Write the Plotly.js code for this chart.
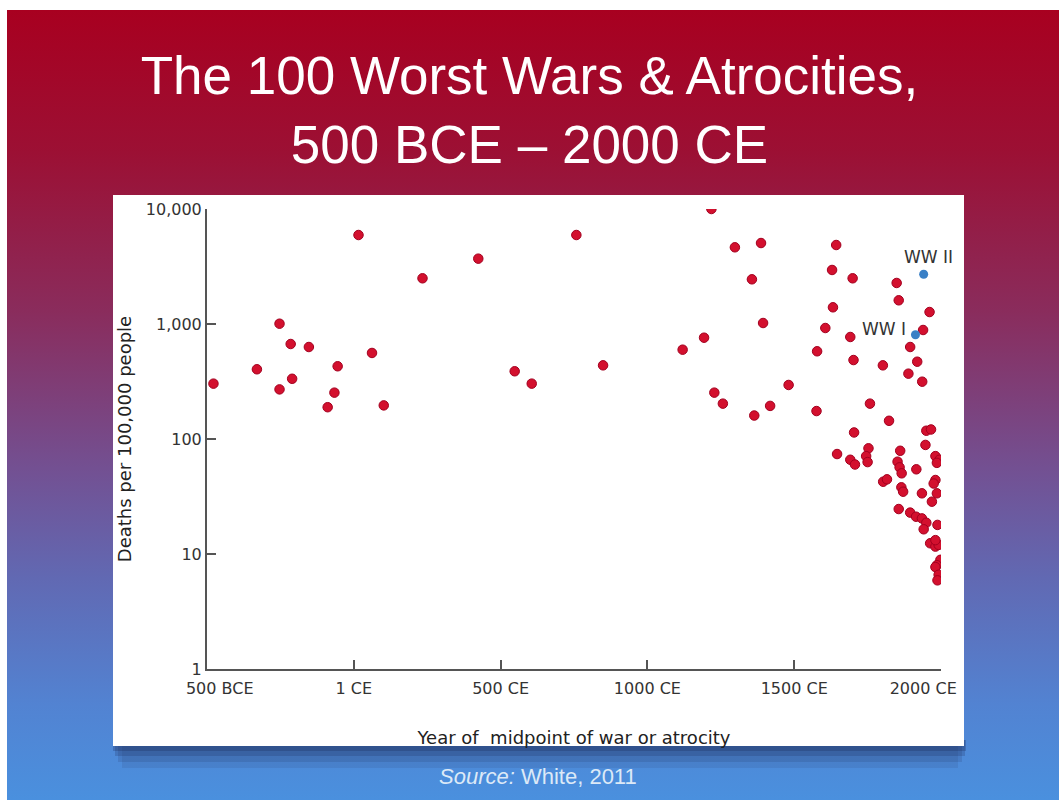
<!DOCTYPE html>
<html>
<head>
<meta charset="utf-8">
<script src="https://cdn.plot.ly/plotly-3.0.1.min.js"></script>
<style>
  html, body { margin: 0; padding: 0; background: #ffffff; }
  #chart {
    width: 1059px; height: 800px;
    background-color: #ffffff;
    background-image: linear-gradient(to bottom, #a80020 0%, #9c1034 18%, #8a2c5c 38%, #735092 58%, #6169b3 72%, #5283d2 88%, #4a90de 100%);
    background-repeat: no-repeat;
    background-position: 7px 10px;
    background-size: 1052px 790px;
  }
</style>
</head>
<body>
<div id="chart"></div>
<script>
// ---- Data ----
const yearsRed = [
  -478, -330, -253, -253, -215, -210, -153, -66, -55, -89, 16, 62, 102,
  234, 424, 548, 606, 758, 849, 1120,
  1218, 1298, 1387, 1356, 1394, 1193, 1228, 1257, 1364, 1418, 1481,
  1643, 1629, 1699, 1849, 1856, 1632, 1961, 1606, 1691, 1939, 1895, 1578, 1702, 1802,
  1919, 1889, 1936, 1758, 1823, 1576, 1704, 1950, 1966, 1646, 1691, 1707, 1753, 1745,
  1750, 1861, 1852, 1859, 1866, 1916, 1947, 1981, 1995, 1986, 1803, 1816, 1865, 1871,
  1935, 1981, 1975, 1986, 1969, 1856, 1895, 1915, 1935, 1950, 1941, 1988, 1963, 1981,
  1992, 1981, 1998, 1986, 1981, 1992, 1988
];
const deathsRed = [
  303, 404, 1006, 270, 670, 334, 631, 253, 429, 189, 5940, 560, 196,
  2497, 3700, 388, 303, 5940, 437, 598,
  10000, 4645, 5060, 2447, 1020, 760, 253, 203, 160, 194, 295,
  4864, 2950, 2497, 2274, 1607, 1397, 1271, 923, 771, 887, 631, 579, 486, 437,
  470, 370, 315, 203, 144, 175, 114, 118, 121, 74, 66, 60, 83, 71,
  63, 79, 63.5, 56.7, 50.3, 54.5, 88.8, 71, 66, 62, 42.5, 44.6, 38, 34.8,
  33.7, 44, 41, 33.7, 28.5, 24.6, 22.9, 21.1, 20.4, 18.7, 16.4, 17.9, 12.4, 11.6,
  12, 13.2, 8.9, 8.0, 7.7, 6.6, 5.9
];
const wwYears  = [1913, 1941];
const wwDeaths = [807, 2705];
const wwLabels = ['WW I', 'WW II'];

const xTickVals = [-500, 0, 500, 1000, 1500, 2000];
const xTickText = ['\u00a0\u00a0\u00a0\u00a0\u00a0500 BCE', '1 CE', '500 CE', '1000 CE', '1500 CE', '2000 CE\u00a0\u00a0\u00a0\u00a0\u00a0\u00a0\u00a0'];
const yTickVals = [1, 10, 100, 1000, 10000];
const yTickText = ['1', '10', '100', '1,000', '10,000'];

// ---- Styling ----
const axisFont = 'DejaVu Sans, Lato, sans-serif';
const axisColor = '#555555';

const traces = [
  {
    type: 'scatter', mode: 'markers',
    x: yearsRed, y: deathsRed,
    marker: { color: '#d3102e', size: 9.5, line: { color: '#a3001f', width: 1 } },
    hoverinfo: 'x+y', showlegend: false
  },
  {
    type: 'scatter', mode: 'markers',
    x: wwYears, y: wwDeaths,
    marker: { color: '#3a80c6', size: 9 },
    hoverinfo: 'x+y', showlegend: false
  }
];

// paper fractions for the white panel around the plot
const L = 207, R = 118, T = 209, B = 131, W = 1059, H = 800;
const pw = W - L - R, ph = H - T - B;
const px = v => (v - L) / pw;
const py = v => (H - B - v) / ph;

const shapes = [
  // soft shadow under the panel
  { type: 'rect', xref: 'paper', yref: 'paper', layer: 'below',
    x0: px(122), x1: px(958), y0: py(768), y1: py(740),
    fillcolor: 'rgba(25,35,80,0.10)', line: { width: 0 } },
  { type: 'rect', xref: 'paper', yref: 'paper', layer: 'below',
    x0: px(118), x1: px(962), y0: py(762), y1: py(740),
    fillcolor: 'rgba(25,35,80,0.14)', line: { width: 0 } },
  { type: 'rect', xref: 'paper', yref: 'paper', layer: 'below',
    x0: px(115), x1: px(965), y0: py(756), y1: py(740),
    fillcolor: 'rgba(25,35,80,0.20)', line: { width: 0 } },
  { type: 'rect', xref: 'paper', yref: 'paper', layer: 'below',
    x0: px(113), x1: px(966), y0: py(751), y1: py(740),
    fillcolor: 'rgba(25,35,80,0.25)', line: { width: 0 } },
  // white panel
  { type: 'rect', xref: 'paper', yref: 'paper', layer: 'below',
    x0: px(113), x1: px(964), y0: py(746), y1: py(195),
    fillcolor: '#ffffff', line: { width: 0 } }
];

const annotations = [
  { x: wwYears[1], y: Math.log10(wwDeaths[1]), xref: 'x', yref: 'y',
    text: wwLabels[1], showarrow: false, xanchor: 'center', yanchor: 'middle',
    xshift: 5, yshift: 17,
    font: { family: axisFont, size: 17, color: '#333333' } },
  { x: wwYears[0], y: Math.log10(wwDeaths[0]), xref: 'x', yref: 'y',
    text: wwLabels[0], showarrow: false, xanchor: 'right', yanchor: 'middle',
    xshift: -7, yshift: 6,
    font: { family: axisFont, size: 17, color: '#333333' } },
  { x: px(538), y: py(776), xref: 'paper', yref: 'paper',
    text: '<i>Source:</i> White, 2011', showarrow: false,
    xanchor: 'center', yanchor: 'middle',
    font: { family: 'Liberation Sans, Arial, sans-serif', size: 22, color: '#dce9f7' } }
];

const layout = {
  width: W, height: H,
  margin: { l: L, r: R, t: T, b: B, pad: 0 },
  paper_bgcolor: 'rgba(0,0,0,0)',
  plot_bgcolor: 'rgba(0,0,0,0)',
  title: {
    text: 'The 100 Worst Wars & Atrocities,<br>500 BCE \u2013 2000 CE',
    font: { family: 'Liberation Sans, Arial, sans-serif', size: 53, color: '#ffffff' },
    x: 0.5, xref: 'container', xanchor: 'center',
    y: 1 - 94 / 800, yref: 'container', yanchor: 'middle'
  },
  xaxis: {
    type: 'linear', range: [-500, 2000], fixedrange: true,
    showgrid: false, zeroline: false,
    showline: true, linecolor: axisColor, linewidth: 2,
    ticks: 'inside', ticklen: 9, tickwidth: 2, tickcolor: axisColor,
    tickvals: xTickVals, ticktext: xTickText,
    ticklabelstandoff: 4,
    tickfont: { family: axisFont, size: 16, color: '#333333' },
    title: { text: 'Year of  midpoint of war or atrocity', standoff: 34,
             font: { family: axisFont, size: 18, color: '#222222' } }
  },
  yaxis: {
    type: 'log', range: [0, 4], fixedrange: true,
    showgrid: false, zeroline: false,
    showline: true, linecolor: axisColor, linewidth: 2,
    ticks: 'inside', ticklen: 9, tickwidth: 2, tickcolor: axisColor,
    tickvals: yTickVals, ticktext: yTickText,
    tickfont: { family: axisFont, size: 16, color: '#333333' },
    title: { text: 'Deaths per 100,000 people', standoff: 10,
             font: { family: axisFont, size: 18, color: '#222222' } }
  },
  shapes: shapes,
  annotations: annotations,
  showlegend: false
};

Plotly.newPlot('chart', traces, layout, { displayModeBar: false, staticPlot: true });
</script>
</body>
</html>
